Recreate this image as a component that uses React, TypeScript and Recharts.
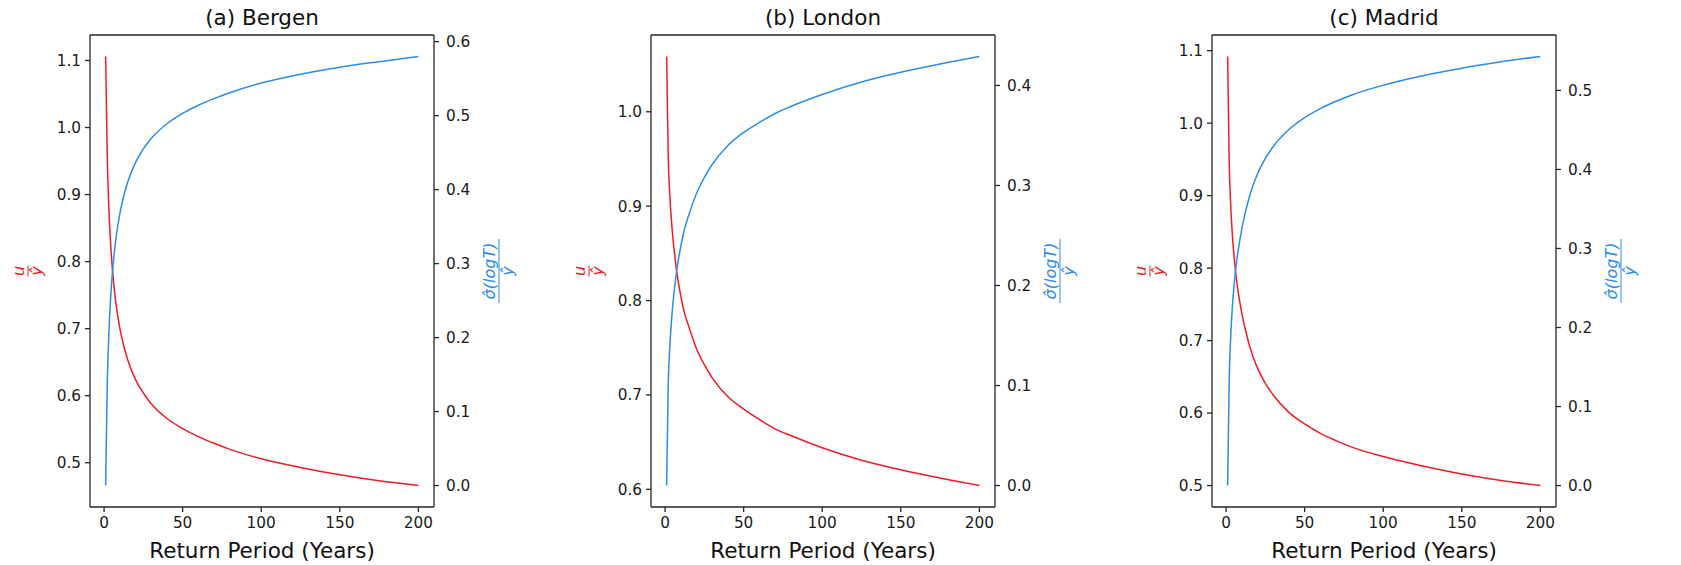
import React from "react";
import { LineChart, Line, XAxis, YAxis, ReferenceLine } from "recharts";

// return periods (years) the curves were read at
const periods = [1, 2, 3, 4, 5, 6, 7, 8, 10, 12, 15, 20, 25, 30, 40, 50, 60, 70, 80, 100, 125, 150, 175, 200];

// u / y-hat (left axis, red)
const bergenRatio = [1.106, 0.959, 0.883, 0.834, 0.798, 0.771, 0.748, 0.73, 0.701, 0.679, 0.654, 0.624, 0.604, 0.588, 0.566, 0.551, 0.539, 0.529, 0.52, 0.506, 0.493, 0.482, 0.473, 0.466];
const londonRatio = [1.0586, 0.953, 0.912, 0.886, 0.866, 0.85, 0.836, 0.824, 0.805, 0.789, 0.773, 0.749, 0.732, 0.718, 0.698, 0.685, 0.674, 0.664, 0.657, 0.644, 0.6308, 0.6207, 0.6119, 0.604];
const madridRatio = [1.092, 0.945, 0.885, 0.846, 0.818, 0.796, 0.778, 0.763, 0.738, 0.718, 0.692, 0.662, 0.641, 0.625, 0.601, 0.585, 0.572, 0.562, 0.553, 0.54, 0.527, 0.516, 0.507, 0.5];

// sigma(logT) / y-hat (right axis, blue)
const bergenSigma = [0, 0.1335, 0.202, 0.247, 0.279, 0.304, 0.324, 0.341, 0.367, 0.387, 0.41, 0.4365, 0.455, 0.469, 0.489, 0.503, 0.514, 0.523, 0.531, 0.544, 0.556, 0.5655, 0.573, 0.58];
const londonSigma = [0, 0.1, 0.138, 0.163, 0.182, 0.197, 0.21, 0.221, 0.239, 0.254, 0.27, 0.292, 0.308, 0.321, 0.34, 0.353, 0.363, 0.372, 0.379, 0.391, 0.4035, 0.4132, 0.4215, 0.429];
const madridSigma = [0, 0.135, 0.19, 0.226, 0.251, 0.2715, 0.288, 0.3015, 0.3245, 0.3435, 0.3665, 0.3945, 0.414, 0.429, 0.4505, 0.4655, 0.477, 0.4863, 0.4943, 0.5066, 0.5186, 0.5282, 0.5362, 0.543];

const titles = ["(a) Bergen", "(b) London", "(c) Madrid"];
const xTicks = [0, 50, 100, 150, 200];
const bergenLeftTicks = [0.5, 0.6, 0.7, 0.8, 0.9, 1.0, 1.1];
const bergenRightTicks = [0, 0.1, 0.2, 0.3, 0.4, 0.5, 0.6];
const londonLeftTicks = [0.6, 0.7, 0.8, 0.9, 1.0];
const londonRightTicks = [0, 0.1, 0.2, 0.3, 0.4];
const madridLeftTicks = [0.5, 0.6, 0.7, 0.8, 0.9, 1.0, 1.1];
const madridRightTicks = [0, 0.1, 0.2, 0.3, 0.4, 0.5];

const RED = "#ee1c25";
const BLUE = "#2b8ce8";
const INK = "#262626";

const CHART_W = 554;
const CHART_H = 565;
const LEFT_W = 90;
const RIGHT_W = 120;
const TOP = 35;
const X_H = 58;
const PLOT_W = CHART_W - LEFT_W - RIGHT_W;

// matplotlib-style 5% margins
const pad = (vals: number[]) => {
  const lo = Math.min(...vals);
  const hi = Math.max(...vals);
  const r = hi - lo;
  return [lo - 0.05 * r, hi + 0.05 * r];
};

const Frac = ({ cx, cy, num, color, bar }: any) => (
  <g transform={`translate(${cx},${cy}) rotate(-90)`}>
    <text x={0} y={-4} textAnchor="middle" fill={color} fontSize={16} fontStyle="italic">
      {num}
    </text>
    <line x1={-bar / 2} x2={bar / 2} y1={0} y2={0} stroke={color} strokeWidth={1} />
    <text x={0} y={14} textAnchor="middle" fill={color} fontSize={16} fontStyle="italic">
      {"ŷ"}
    </text>
  </g>
);

const Panel = ({ title, ratio, sigma, leftTicks, rightTicks }: any) => {
  const rows = periods.map((T, i) => ({ T, ratio: ratio[i], sigma: sigma[i] }));
  const xDomain = pad(periods);
  const leftDomain = pad(ratio);
  const midX = LEFT_W + PLOT_W / 2;
  const midY = TOP + (CHART_H - TOP - X_H) / 2;
  const tickStyle = { fill: "#1a1a1a", fontSize: 15.3 };
  const axisStyle = { stroke: INK, strokeWidth: 1.3 };

  return (
    <LineChart width={CHART_W} height={CHART_H} data={rows} margin={{ top: TOP, right: 0, bottom: 0, left: 0 }}>
      <XAxis
        dataKey="T"
        type="number"
        domain={xDomain}
        allowDataOverflow
        ticks={xTicks}
        height={X_H}
        tickSize={5}
        tickMargin={5}
        tick={tickStyle}
        tickLine={axisStyle}
        axisLine={axisStyle}
        label={() => (
          <text x={midX} y={558} textAnchor="middle" fontSize={21.5} fill="#111">
            Return Period (Years)
          </text>
        )}
      />
      <YAxis
        yAxisId="l"
        orientation="left"
        width={LEFT_W}
        type="number"
        domain={leftDomain}
        allowDataOverflow
        ticks={leftTicks}
        tickFormatter={(v: number) => v.toFixed(1)}
        tickSize={5}
        tickMargin={4}
        tick={tickStyle}
        tickLine={axisStyle}
        axisLine={axisStyle}
        label={() => <Frac cx={28} cy={midY} num="u" color={RED} bar={11} />}
      />
      <YAxis
        yAxisId="r"
        orientation="right"
        width={RIGHT_W}
        type="number"
        domain={pad(sigma)}
        allowDataOverflow
        ticks={rightTicks}
        tickFormatter={(v: number) => v.toFixed(1)}
        tickSize={5}
        tickMargin={7}
        tick={tickStyle}
        tickLine={axisStyle}
        axisLine={axisStyle}
        label={() => (
          <Frac cx={LEFT_W + PLOT_W + 65} cy={midY} num={"σ̂(logT)"} color={BLUE} bar={64} />
        )}
      />
      {/* top spine + panel title */}
      <ReferenceLine
        yAxisId="l"
        y={leftDomain[1]}
        stroke={INK}
        strokeWidth={1.3}
        label={() => (
          <text x={midX} y={25} textAnchor="middle" fontSize={21.5} fill="#111">
            {title}
          </text>
        )}
      />
      <Line
        yAxisId="l"
        dataKey="ratio"
        type="monotone"
        stroke={RED}
        strokeWidth={1.5}
        dot={false}
        activeDot={false}
        isAnimationActive={false}
      />
      <Line
        yAxisId="r"
        dataKey="sigma"
        type="monotone"
        stroke={BLUE}
        strokeWidth={1.5}
        dot={false}
        activeDot={false}
        isAnimationActive={false}
      />
    </LineChart>
  );
};

export default function App() {
  const panels = [
    { ratio: bergenRatio, sigma: bergenSigma, leftTicks: bergenLeftTicks, rightTicks: bergenRightTicks },
    { ratio: londonRatio, sigma: londonSigma, leftTicks: londonLeftTicks, rightTicks: londonRightTicks },
    { ratio: madridRatio, sigma: madridSigma, leftTicks: madridLeftTicks, rightTicks: madridRightTicks },
  ];
  const lefts = [0, 561, 1122];

  return (
    <div
      style={{
        position: "absolute",
        left: 0,
        top: 0,
        width: 1681,
        height: 565,
        overflow: "hidden",
        background: "#fff",
        fontFamily: "'DejaVu Sans', sans-serif",
      }}
    >
      {panels.map((p, i) => (
        <div key={titles[i]} style={{ position: "absolute", left: lefts[i], top: 0 }}>
          <Panel title={titles[i]} {...p} />
        </div>
      ))}
    </div>
  );
}
